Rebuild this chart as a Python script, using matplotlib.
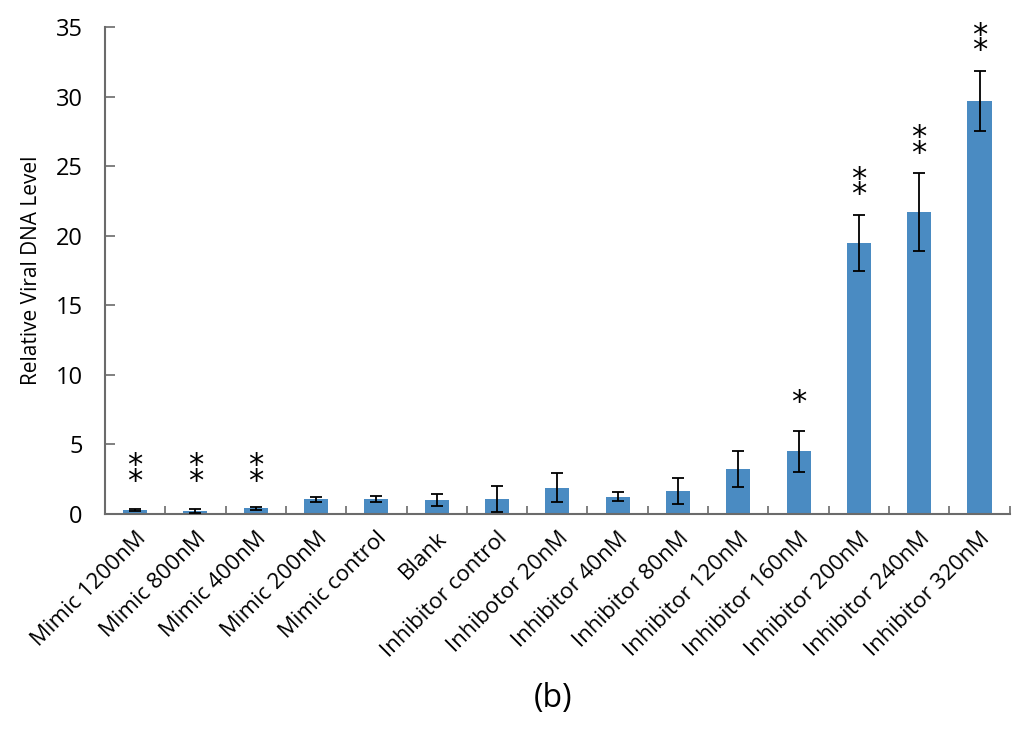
import matplotlib
matplotlib.use("Agg")
import matplotlib.pyplot as plt
import numpy as np

categories = ["Mimic 1200nM", "Mimic 800nM", "Mimic 400nM", "Mimic 200nM", "Mimic control",
              "Blank", "Inhibitor control", "Inhibotor 20nM", "Inhibitor 40nM", "Inhibitor 80nM",
              "Inhibitor 120nM", "Inhibitor 160nM", "Inhibitor 200nM", "Inhibitor 240nM", "Inhibitor 320nM"]
values = [0.3, 0.2, 0.4, 1.05, 1.1, 1.0, 1.1, 1.9, 1.25, 1.65, 3.25, 4.5, 19.5, 21.7, 29.7]
errors = [0.05, 0.15, 0.1, 0.15, 0.2, 0.45, 0.95, 1.05, 0.3, 0.95, 1.3, 1.45, 2.0, 2.8, 2.15]
stars = ["**", "**", "**", "", "", "", "", "", "", "", "", "*", "**", "**", "**"]
yticks = [0, 5, 10, 15, 20, 25, 30, 35]

plt.rcParams['font.family'] = ['Open Sans', 'DejaVu Sans']

fig = plt.figure(figsize=(10.24, 7.34), dpi=100)
ax = fig.add_axes([0.1025, 0.2997, 0.8835, 0.6633])

x = np.arange(len(categories))
ax.bar(x, values, width=0.4, color="#4a8bc2", zorder=2)
ax.errorbar(x, values, yerr=errors, fmt="none", ecolor="black", elinewidth=1.3,
            capsize=4.5, capthick=1.3, zorder=3)

for xi, v, e, s in zip(x, values, errors, stars):
    if not s:
        continue
    yc = max(v + e + 2.4, 3.3)
    txt = "\n".join(list(s))
    ax.annotate(txt, (xi, yc), xytext=(0, -4 if len(s) == 2 else -3),
                textcoords="offset points", ha="center", va="center",
                fontsize=22, linespacing=0.42, color="black", family="DejaVu Sans")

ax.set_xlim(-0.5, len(categories) - 0.5)
ax.set_ylim(0, 35)
ax.set_yticks(yticks)
ax.tick_params(axis="y", direction="in", length=7, width=1.2, color="#6b6b6b",
               labelsize=17, pad=16)
ax.set_xticks(x)
ax.set_xticklabels(categories, rotation=45, ha="right", rotation_mode="anchor", fontsize=16)
ax.tick_params(axis="x", which="major", length=0, pad=10)
ax.set_xticks(np.arange(0.5, len(categories), 1.0), minor=True)
ax.tick_params(axis="x", which="minor", direction="in", length=6, width=1.2, color="#6b6b6b")

for side in ["top", "right"]:
    ax.spines[side].set_visible(False)
for side in ["left", "bottom"]:
    ax.spines[side].set_color("#6b6b6b")
    ax.spines[side].set_linewidth(1.5)

ax.set_ylabel("Relative Viral DNA Level", fontsize=15, labelpad=10)
fig.text(0.54, 0.049, "(b)", ha="center", va="center", fontsize=23)

fig.savefig("out.png", dpi=100)
